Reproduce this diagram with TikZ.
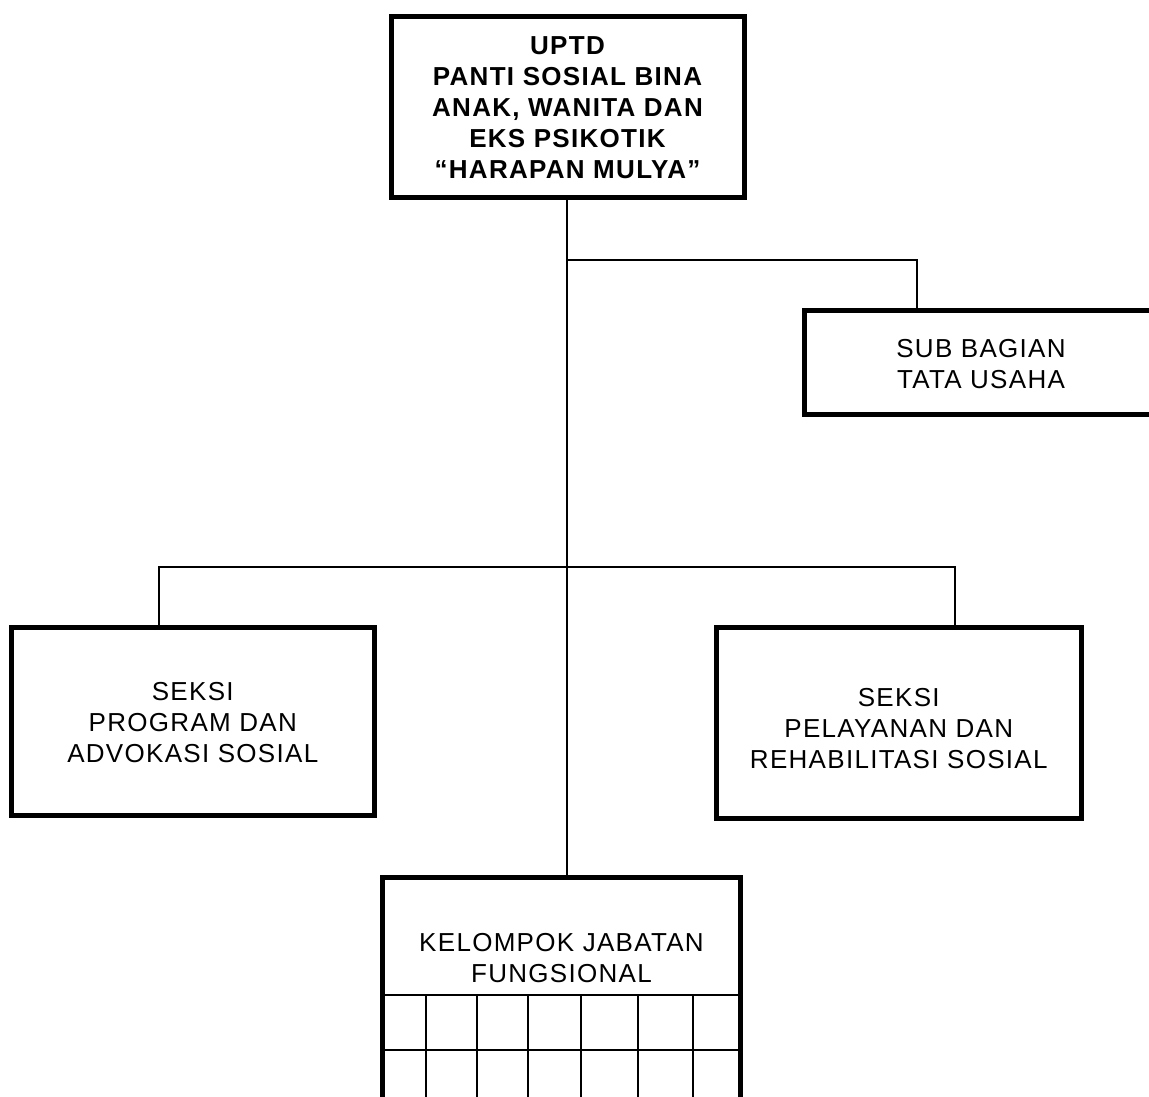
\documentclass[tikz,border=0pt]{standalone}
\usepackage{fontspec}
\setmainfont[LetterSpace=5]{Liberation Sans}
\begin{document}
\begin{tikzpicture}[x=1pt,y=-1pt,
  box/.style={draw=black, line width=5pt, rectangle, inner sep=0pt, fill=none},
  lbl/.style={align=center, inner sep=0pt, font=\fontsize{26}{31}\selectfont},
  conn/.style={draw=black, line width=1.7pt},
  trunk/.style={draw=black, line width=2.4pt}]
\useasboundingbox (0,0) rectangle (1149,1096);
\clip (0,0) rectangle (1149,1096);
% boxes
\node[box, minimum width=353pt, minimum height=181pt] (top) at (567.5,106.5) {};
\node[lbl, font=\fontsize{26}{31}\selectfont\bfseries] (toptxt) at (567.5,108) {UPTD\\PANTI SOSIAL BINA\\ANAK, WANITA DAN\\EKS PSIKOTIK\\“HARAPAN MULYA”};
\node[box, minimum width=354pt, minimum height=103.5pt] (sub) at (981,362.25) {};
\node[lbl] (subtxt) at (981,364) {SUB BAGIAN\\TATA USAHA};
\node[box, minimum width=363.5pt, minimum height=187.5pt] (left) at (192.75,721.25) {};
\node[lbl] (lefttxt) at (192.75,723) {SEKSI\\PROGRAM DAN\\ADVOKASI SOSIAL};
\node[box, minimum width=364.5pt, minimum height=190.5pt] (right) at (898.75,722.75) {};
\node[lbl] (righttxt) at (898.75,729) {SEKSI\\PELAYANAN DAN\\REHABILITASI SOSIAL};
\node[box, minimum width=358pt, minimum height=240pt] (fung) at (561.5,997.5) {};
\node[lbl] (fungtxt) at (561.5,958) {KELOMPOK JABATAN\\FUNGSIONAL};
% grid inside bottom box
\coordinate (h1) at (0,995);
\coordinate (h2) at (0,1050);
\draw[conn, line width=2pt] (fung.west |- h1) -- (fung.east |- h1);
\draw[conn, line width=2pt] (fung.west |- h2) -- (fung.east |- h2);
\foreach \cx in {425.7,476.7,528,581,637.7,693.3}{
  \coordinate (c) at (\cx,0);
  \draw[conn, line width=2pt] (c |- h1) -- (c |- fung.south);
}
% connectors
\coordinate (b1) at (567,260);
\coordinate (b2) at (567,567);
\coordinate (d1) at (917,0);
\coordinate (d2) at (159,0);
\coordinate (d3) at (955,0);
\draw[trunk] (top.south -| b1) -- (fung.north -| b1);
\draw[conn] (b1) -| (sub.north -| d1);
\draw[conn] (left.north -| d2) |- (b2) -| (right.north -| d3);
\end{tikzpicture}
\end{document}
